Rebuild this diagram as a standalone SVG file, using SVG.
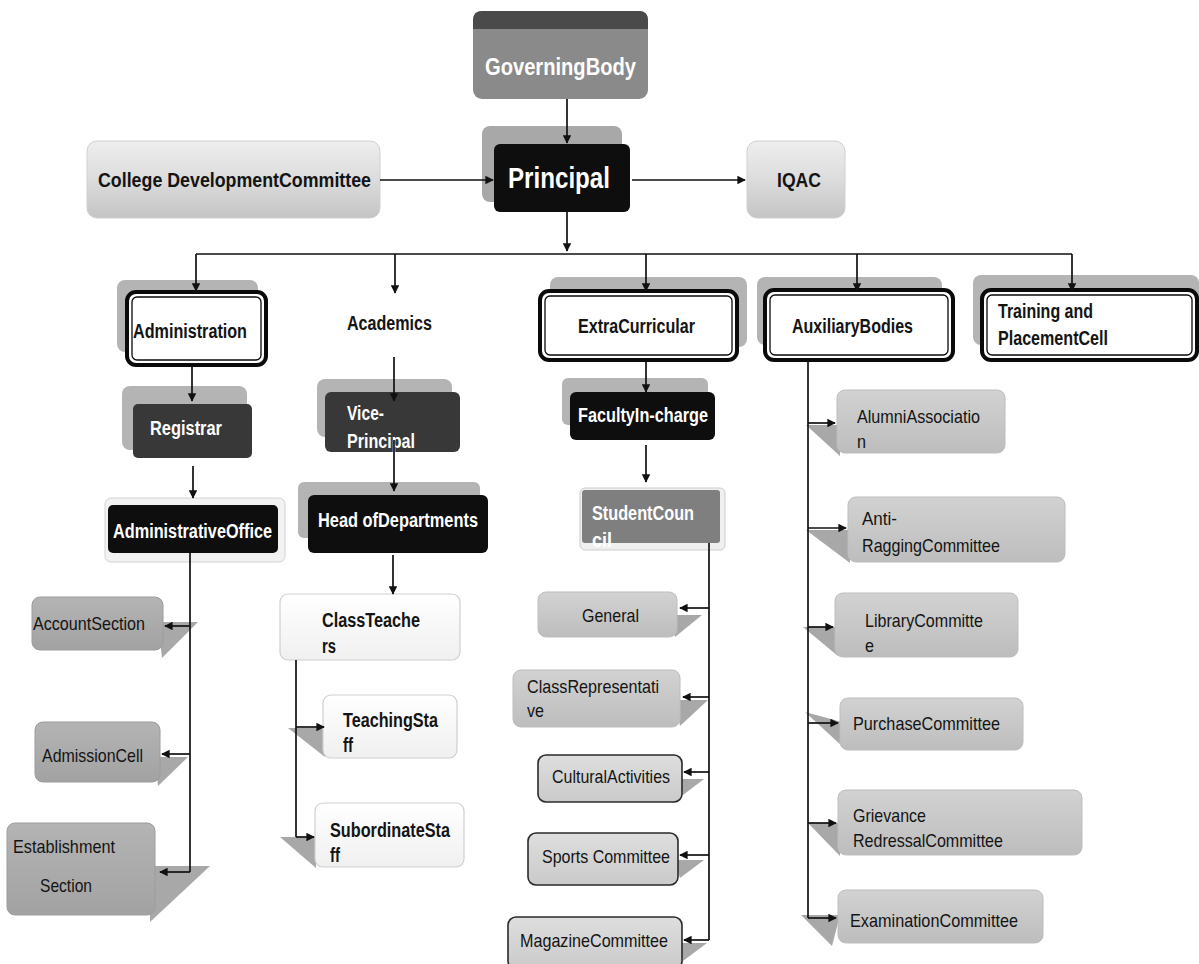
<svg xmlns="http://www.w3.org/2000/svg" width="1199" height="964" viewBox="0 0 1199 964">
<style>
.t{font-family:"Liberation Sans Narrow","Liberation Sans",Arial,sans-serif;}
.b{font-weight:bold;font-size:20px;}
.r{font-weight:normal;font-size:19px;}
.w{fill:#ffffff;}
.k{fill:#141414;}
.sh{fill:#b4b4b4;}
.dbl{fill:#ffffff;stroke:#0a0a0a;stroke-width:4;}
.dbli{fill:none;stroke:#0a0a0a;stroke-width:1.3;}
.blk{fill:#0e0e0e;}
.drk{fill:#383838;}
.tail{fill:#a8a8a8;}
.wb{fill:url(#gw);stroke:#cfcfcf;stroke-width:1.2;}
.gb{fill:url(#gm);stroke:#bdbdbd;stroke-width:1;}
.gd{fill:url(#gd);stroke:#9c9c9c;stroke-width:1;}
.gk{fill:url(#gl);stroke:#2a2a2a;stroke-width:1.6;}
.ln{stroke:#111;stroke-width:1.7;fill:none;}
.ar{stroke:#111;stroke-width:1.7;fill:none;marker-end:url(#ah);}
</style>
<defs>
<marker id="ah" viewBox="0 0 10 10" refX="9" refY="5" markerWidth="5" markerHeight="5" orient="auto" markerUnits="strokeWidth">
<path d="M0,0 L10,5 L0,10 z" fill="#111"/>
</marker>
<linearGradient id="gc" x1="0" y1="0" x2="0" y2="1"><stop offset="0" stop-color="#eeeeee"/><stop offset="0.5" stop-color="#dcdcdc"/><stop offset="1" stop-color="#c4c4c4"/></linearGradient>
<linearGradient id="gw" x1="0" y1="0" x2="0" y2="1"><stop offset="0" stop-color="#ffffff"/><stop offset="1" stop-color="#f0f0f0"/></linearGradient>
<linearGradient id="gm" x1="0" y1="0" x2="0" y2="1"><stop offset="0" stop-color="#d2d2d2"/><stop offset="1" stop-color="#bdbdbd"/></linearGradient>
<linearGradient id="gd" x1="0" y1="0" x2="0" y2="1"><stop offset="0" stop-color="#b4b4b4"/><stop offset="1" stop-color="#a2a2a2"/></linearGradient>
<linearGradient id="gl" x1="0" y1="0" x2="0" y2="1"><stop offset="0" stop-color="#dedede"/><stop offset="1" stop-color="#cacaca"/></linearGradient>
</defs>
<rect width="1199" height="964" fill="#ffffff"/>

<g id="gov-body">
<rect x="473" y="11" width="175" height="88" rx="9" fill="#8a8a8a"/>
<path d="M482,11 H639 Q648,11 648,20 V29 H473 V20 Q473,11 482,11 z" fill="#4a4a4a"/>
<text class="t w" x="485" y="75" font-weight="bold" font-size="24" textLength="151" lengthAdjust="spacingAndGlyphs">GoverningBody</text>
</g>

<g id="principal">
<rect x="482" y="126" width="140" height="76" rx="8" fill="#a8a8a8"/>
<rect class="blk" x="494" y="144" width="136" height="68" rx="6"/>
<text class="t w" x="508" y="188" font-weight="bold" font-size="29" textLength="102" lengthAdjust="spacingAndGlyphs">Principal</text>
</g>

<g id="cdc">
<rect x="87" y="141" width="293" height="77" rx="10" fill="url(#gc)" stroke="#d0d0d0"/>
<text class="t b k" x="98" y="187" textLength="273" lengthAdjust="spacingAndGlyphs">College DevelopmentCommittee</text>
</g>

<g id="iqac">
<rect x="747" y="141" width="98" height="77" rx="10" fill="url(#gc)" stroke="#d0d0d0"/>
<text class="t b k" x="777" y="187" textLength="44" lengthAdjust="spacingAndGlyphs">IQAC</text>
</g>

<g id="administration">
<rect class="sh" x="117" y="280" width="141" height="72" rx="8"/>
<rect class="dbl" x="127" y="292" width="139" height="73" rx="9"/>
<rect class="dbli" x="132" y="297" width="129" height="63" rx="5"/>
<text class="t b k" x="133" y="338" textLength="114" lengthAdjust="spacingAndGlyphs">Administration</text>
</g>

<g id="academics">
<text class="t b k" x="347" y="330" textLength="85" lengthAdjust="spacingAndGlyphs">Academics</text>
</g>

<g id="registrar">
<rect class="sh" x="122" y="386" width="125" height="64" rx="8"/>
<rect class="drk" x="133" y="404" width="119" height="54" rx="5"/>
<text class="t b w" x="150" y="435" textLength="72" lengthAdjust="spacingAndGlyphs">Registrar</text>
</g>

<g id="administrative-office">
<rect x="105" y="498" width="180" height="64" rx="6" fill="#f2f2f2" stroke="#d2d2d2"/>
<rect class="blk" x="108" y="505" width="170" height="48" rx="5"/>
<text class="t b w" x="113" y="538" textLength="159" lengthAdjust="spacingAndGlyphs">AdministrativeOffice</text>
</g>

<g id="account-section">
<polygon class="tail" points="158,622 198,622 162,658"/>
<rect class="gd" x="32" y="597" width="131" height="53" rx="8"/>
<text class="t r k" x="33" y="630" textLength="112" lengthAdjust="spacingAndGlyphs">AccountSection</text>
</g>

<g id="admission-cell">
<polygon class="tail" points="155,757 188,757 158,786"/>
<rect class="gd" x="35" y="722" width="125" height="60" rx="8"/>
<text class="t r k" x="42" y="762" textLength="101" lengthAdjust="spacingAndGlyphs">AdmissionCell</text>
</g>

<g id="establishment-section">
<polygon class="tail" points="150,866 210,866 150,922"/>
<rect class="gd" x="7" y="823" width="148" height="92" rx="8"/>
<text class="t r k" x="13" y="853" textLength="102" lengthAdjust="spacingAndGlyphs">Establishment</text>
<text class="t r k" x="40" y="892" textLength="52" lengthAdjust="spacingAndGlyphs">Section</text>
</g>

<g id="vice-principal">
<rect class="sh" x="317" y="379" width="135" height="58" rx="8"/>
<rect class="drk" x="325" y="392" width="135" height="60" rx="6"/>
<text class="t b w" x="347" y="420" textLength="37" lengthAdjust="spacingAndGlyphs">Vice-</text>
<text class="t b w" x="347" y="448" textLength="68" lengthAdjust="spacingAndGlyphs">Principal</text>
</g>

<g id="head-of-departments">
<rect class="sh" x="298" y="482" width="182" height="56" rx="6"/>
<rect class="blk" x="308" y="495" width="180" height="58" rx="6"/>
<text class="t b w" x="318" y="527" textLength="160" lengthAdjust="spacingAndGlyphs">Head ofDepartments</text>
</g>

<g id="class-teachers">
<rect class="wb" x="280" y="594" width="180" height="66" rx="8"/>
<text class="t b k" x="322" y="627" textLength="98" lengthAdjust="spacingAndGlyphs">ClassTeache</text>
<text class="t b k" x="322" y="653" textLength="14" lengthAdjust="spacingAndGlyphs">rs</text>
</g>

<g id="teaching-staff">
<polygon class="tail" points="288,728 325,728 325,757"/>
<rect class="wb" x="323" y="695" width="134" height="63" rx="8"/>
<text class="t b k" x="343" y="727" textLength="95" lengthAdjust="spacingAndGlyphs">TeachingSta</text>
<text class="t b k" x="343" y="752" textLength="10" lengthAdjust="spacingAndGlyphs">ff</text>
</g>

<g id="subordinate-staff">
<polygon class="tail" points="280,837 316,837 316,868"/>
<rect class="wb" x="315" y="803" width="149" height="64" rx="8"/>
<text class="t b k" x="330" y="837" textLength="120" lengthAdjust="spacingAndGlyphs">SubordinateSta</text>
<text class="t b k" x="330" y="862" textLength="10" lengthAdjust="spacingAndGlyphs">ff</text>
</g>

<g id="extra-curricular">
<rect class="sh" x="550" y="277" width="197" height="70" rx="8"/>
<rect class="dbl" x="540" y="291" width="197" height="69" rx="9"/>
<rect class="dbli" x="545" y="296" width="187" height="59" rx="5"/>
<text class="t b k" x="578" y="333" textLength="117" lengthAdjust="spacingAndGlyphs">ExtraCurricular</text>
</g>

<g id="faculty-in-charge">
<rect class="sh" x="562" y="378" width="146" height="47" rx="6"/>
<rect class="blk" x="570" y="392" width="145" height="48" rx="6"/>
<text class="t b w" x="578" y="422" textLength="130" lengthAdjust="spacingAndGlyphs">FacultyIn-charge</text>
</g>

<g id="student-council">
<rect x="580" y="488" width="145" height="62" rx="5" fill="#efefef" stroke="#cdcdcd"/>
<rect x="582" y="490" width="138" height="53" rx="3" fill="#7f7f7f"/>
<text class="t b w" x="592" y="520" textLength="102" lengthAdjust="spacingAndGlyphs">StudentCoun</text>
<text class="t b w" x="592" y="547" textLength="20" lengthAdjust="spacingAndGlyphs">cil</text>
</g>

<g id="general">
<polygon class="tail" points="670,615 702,615 675,637"/>
<rect class="gb" x="538" y="592" width="139" height="45" rx="8"/>
<text class="t r k" x="582" y="622" textLength="57" lengthAdjust="spacingAndGlyphs">General</text>
</g>

<g id="class-representative">
<polygon class="tail" points="675,700 708,700 680,726"/>
<rect class="gb" x="513" y="670" width="167" height="57" rx="8"/>
<text class="t r k" x="527" y="693" textLength="132" lengthAdjust="spacingAndGlyphs">ClassRepresentati</text>
<text class="t r k" x="527" y="717" textLength="17" lengthAdjust="spacingAndGlyphs">ve</text>
</g>

<g id="cultural-activities">
<polygon class="tail" points="678,779 704,779 683,795"/>
<rect class="gk" x="538" y="755" width="144" height="47" rx="8"/>
<text class="t r k" x="552" y="783" textLength="118" lengthAdjust="spacingAndGlyphs">CulturalActivities</text>
</g>

<g id="sports-committee">
<polygon class="tail" points="674,860 704,860 680,878"/>
<rect class="gk" x="528" y="833" width="150" height="52" rx="8"/>
<text class="t r k" x="542" y="863" textLength="128" lengthAdjust="spacingAndGlyphs">Sports Committee</text>
</g>

<g id="magazine-committee">
<polygon class="tail" points="678,943 707,943 683,961"/>
<rect class="gk" x="508" y="917" width="174" height="52" rx="8"/>
<text class="t r k" x="520" y="947" textLength="148" lengthAdjust="spacingAndGlyphs">MagazineCommittee</text>
</g>

<g id="auxiliary-bodies">
<rect class="sh" x="757" y="277" width="185" height="68" rx="8"/>
<rect class="dbl" x="765" y="290" width="188" height="70" rx="9"/>
<rect class="dbli" x="770" y="295" width="178" height="60" rx="5"/>
<text class="t b k" x="792" y="333" textLength="121" lengthAdjust="spacingAndGlyphs">AuxiliaryBodies</text>
</g>

<g id="training-placement">
<rect class="sh" x="973" y="275" width="226" height="70" rx="8"/>
<rect class="dbl" x="982" y="290" width="215" height="70" rx="9"/>
<rect class="dbli" x="987" y="295" width="205" height="60" rx="5"/>
<text class="t b k" x="998" y="318" textLength="95" lengthAdjust="spacingAndGlyphs">Training and</text>
<text class="t b k" x="998" y="345" textLength="110" lengthAdjust="spacingAndGlyphs">PlacementCell</text>
</g>

<g id="alumni-association">
<polygon class="tail" points="806,425 840,425 840,456"/>
<rect class="gb" x="837" y="390" width="168" height="63" rx="8"/>
<text class="t r k" x="857" y="423" textLength="123" lengthAdjust="spacingAndGlyphs">AlumniAssociatio</text>
<text class="t r k" x="857" y="448" textLength="9" lengthAdjust="spacingAndGlyphs">n</text>
</g>

<g id="anti-ragging">
<polygon class="tail" points="806,530 850,530 850,563"/>
<rect class="gb" x="848" y="497" width="217" height="65" rx="8"/>
<text class="t r k" x="862" y="525" textLength="35" lengthAdjust="spacingAndGlyphs">Anti-</text>
<text class="t r k" x="862" y="552" textLength="138" lengthAdjust="spacingAndGlyphs">RaggingCommittee</text>
</g>

<g id="library-committee">
<polygon class="tail" points="803,627 838,627 838,656"/>
<rect class="gb" x="835" y="593" width="183" height="64" rx="8"/>
<text class="t r k" x="865" y="627" textLength="118" lengthAdjust="spacingAndGlyphs">LibraryCommitte</text>
<text class="t r k" x="865" y="652" textLength="9" lengthAdjust="spacingAndGlyphs">e</text>
</g>

<g id="purchase-committee">
<polygon class="tail" points="805,712 842,722 842,746"/>
<rect class="gb" x="840" y="698" width="183" height="52" rx="8"/>
<text class="t r k" x="853" y="730" textLength="147" lengthAdjust="spacingAndGlyphs">PurchaseCommittee</text>
</g>

<g id="grievance-committee">
<polygon class="tail" points="808,823 840,823 840,856"/>
<rect class="gb" x="838" y="790" width="244" height="65" rx="8"/>
<text class="t r k" x="853" y="822" textLength="73" lengthAdjust="spacingAndGlyphs">Grievance</text>
<text class="t r k" x="853" y="847" textLength="150" lengthAdjust="spacingAndGlyphs">RedressalCommittee</text>
</g>

<g id="examination-committee">
<polygon class="tail" points="801,915 840,915 832,946"/>
<rect class="gb" x="838" y="890" width="205" height="53" rx="8"/>
<text class="t r k" x="850" y="927" textLength="168" lengthAdjust="spacingAndGlyphs">ExaminationCommittee</text>
</g>

<g id="connectors">
<line class="ar" x1="567" y1="99" x2="567" y2="143"/>
<line class="ar" x1="380" y1="180" x2="493" y2="180"/>
<line class="ar" x1="632" y1="180" x2="745" y2="180"/>
<line class="ar" x1="567" y1="212" x2="567" y2="251"/>
<line class="ln" x1="196" y1="254" x2="1072" y2="254"/>
<line class="ar" x1="196" y1="254" x2="196" y2="291"/>
<line class="ar" x1="395" y1="254" x2="395" y2="293"/>
<line class="ar" x1="646" y1="254" x2="646" y2="291"/>
<line class="ar" x1="857" y1="254" x2="857" y2="291"/>
<line class="ar" x1="1072" y1="254" x2="1072" y2="291"/>
<line class="ar" x1="192" y1="366" x2="192" y2="401"/>
<line class="ar" x1="193" y1="466" x2="193" y2="498"/>
<line class="ar" x1="394" y1="357" x2="394" y2="401"/>
<line class="ar" x1="394" y1="440" x2="394" y2="491"/>
<line class="ar" x1="393" y1="555" x2="393" y2="594"/>
<line class="ar" x1="646" y1="362" x2="646" y2="392"/>
<line class="ar" x1="646" y1="445" x2="646" y2="482"/>
<line class="ln" x1="190" y1="553" x2="190" y2="872"/>
<line class="ar" x1="190" y1="626" x2="165" y2="626"/>
<line class="ar" x1="190" y1="754" x2="162" y2="754"/>
<line class="ar" x1="190" y1="872" x2="160" y2="872"/>
<line class="ln" x1="296" y1="660" x2="296" y2="837"/>
<line class="ar" x1="296" y1="727" x2="324" y2="727"/>
<line class="ar" x1="296" y1="837" x2="314" y2="837"/>
<line class="ln" x1="709" y1="543" x2="709" y2="940"/>
<line class="ar" x1="709" y1="608" x2="680" y2="608"/>
<line class="ar" x1="709" y1="697" x2="683" y2="697"/>
<line class="ar" x1="709" y1="772" x2="684" y2="772"/>
<line class="ar" x1="709" y1="855" x2="680" y2="855"/>
<line class="ar" x1="709" y1="940" x2="684" y2="940"/>
<line class="ln" x1="808" y1="360" x2="808" y2="918"/>
<line class="ar" x1="808" y1="423" x2="835" y2="423"/>
<line class="ar" x1="808" y1="528" x2="846" y2="528"/>
<line class="ar" x1="808" y1="627" x2="833" y2="627"/>
<line class="ar" x1="808" y1="723" x2="838" y2="723"/>
<line class="ar" x1="808" y1="823" x2="836" y2="823"/>
<line class="ar" x1="808" y1="918" x2="836" y2="918"/>
</g>
</svg>
